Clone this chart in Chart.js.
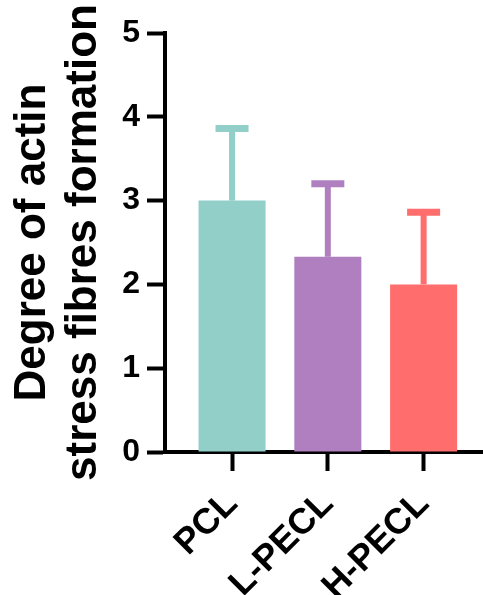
<!DOCTYPE html>
<html>
<head>
<meta charset="utf-8">
<script src="https://cdn.jsdelivr.net/npm/chart.js@4"></script>
<style>
  html, body { margin: 0; padding: 0; background: #fff; }
  #wrap { width: 483px; height: 595px; }
</style>
</head>
<body>
<div id="wrap"><canvas id="barChart" width="483" height="595"></canvas></div>
<script>
// Data
const categories = ['PCL', 'L-PECL', 'H-PECL'];
const means = [3.0, 2.33, 2.0];
const errors = [0.86, 0.87, 0.86];
const barColors = ['#92CFC9', '#B07FBF', '#FF6D6D'];
const yTicks = [0, 1, 2, 3, 4, 5];

const FONT = '"Liberation Sans", Arial, Helvetica, sans-serif';

// Plugin error bar (hanya bagian atas, seperti GraphPad)
const errorBarPlugin = {
    id: 'errorBars',
    afterDatasetsDraw(chart) {
        const ctx = chart.ctx;
        const yScale = chart.scales.y;
        const meta = chart.getDatasetMeta(0);
        meta.data.forEach((bar, i) => {
            const top = yScale.getPixelForValue(means[i]);
            const end = yScale.getPixelForValue(means[i] + errors[i]);
            ctx.save();
            ctx.strokeStyle = barColors[i];
            ctx.lineCap = 'butt';
            ctx.lineWidth = 6;
            ctx.beginPath();
            ctx.moveTo(bar.x, top);
            ctx.lineTo(bar.x, end);
            ctx.stroke();
            ctx.lineWidth = 7;
            ctx.beginPath();
            ctx.moveTo(bar.x - 16.5, end);
            ctx.lineTo(bar.x + 16.5, end);
            ctx.stroke();
            ctx.restore();
        });
    }
};

const ctx = document.getElementById('barChart').getContext('2d');
const chart = new Chart(ctx, {
    type: 'bar',
    data: {
        datasets: [{
            data: categories.map((c, i) => ({ x: i, y: means[i] })),
            backgroundColor: barColors,
            borderWidth: 0,
            categoryPercentage: 1,
            barPercentage: 0.7
        }]
    },
    options: {
        responsive: false,
        animation: false,
        layout: { padding: { top: 33, right: 0, bottom: 0, left: 0 } },
        plugins: {
            legend: { display: false },
            tooltip: { enabled: false }
        },
        scales: {
            x: {
                type: 'linear',
                offset: false,
                min: -0.70,
                max: 2.62,
                afterBuildTicks: (scale) => {
                    scale.ticks = categories.map((c, i) => ({ value: i }));
                },
                afterFit: (scale) => { scale.height = 143; },
                ticks: {
                    autoSkip: false,
                    maxRotation: 45,
                    minRotation: 45,
                    padding: 12,
                    color: '#000',
                    font: { family: FONT, size: 36, weight: 'bold' },
                    callback: (v) => categories[v]
                },
                grid: {
                    offset: false,
                    drawOnChartArea: false,
                    drawTicks: true,
                    tickLength: 19,
                    tickWidth: 4,
                    color: '#000'
                },
                border: { display: true, width: 4, color: '#000' }
            },
            y: {
                min: 0,
                max: 5,
                afterBuildTicks: (scale) => {
                    scale.ticks = yTicks.map(v => ({ value: v }));
                },
                afterFit: (scale) => { scale.width = 165; },
                ticks: {
                    padding: 7,
                    color: '#000',
                    font: { family: FONT, size: 32, weight: 'bold' }
                },
                grid: {
                    drawOnChartArea: false,
                    drawTicks: true,
                    tickLength: 18,
                    tickWidth: 4,
                    color: '#000'
                },
                border: { display: true, width: 4, color: '#000' },
                title: {
                    display: true,
                    text: ['Degree of actin', 'stress fibres formation'],
                    color: '#000',
                    padding: { top: 8, bottom: 0 },
                    font: { family: FONT, size: 44, weight: 'bold', lineHeight: 1.15 }
                }
            }
        }
    },
    plugins: [errorBarPlugin]
});
</script>
</body>
</html>
